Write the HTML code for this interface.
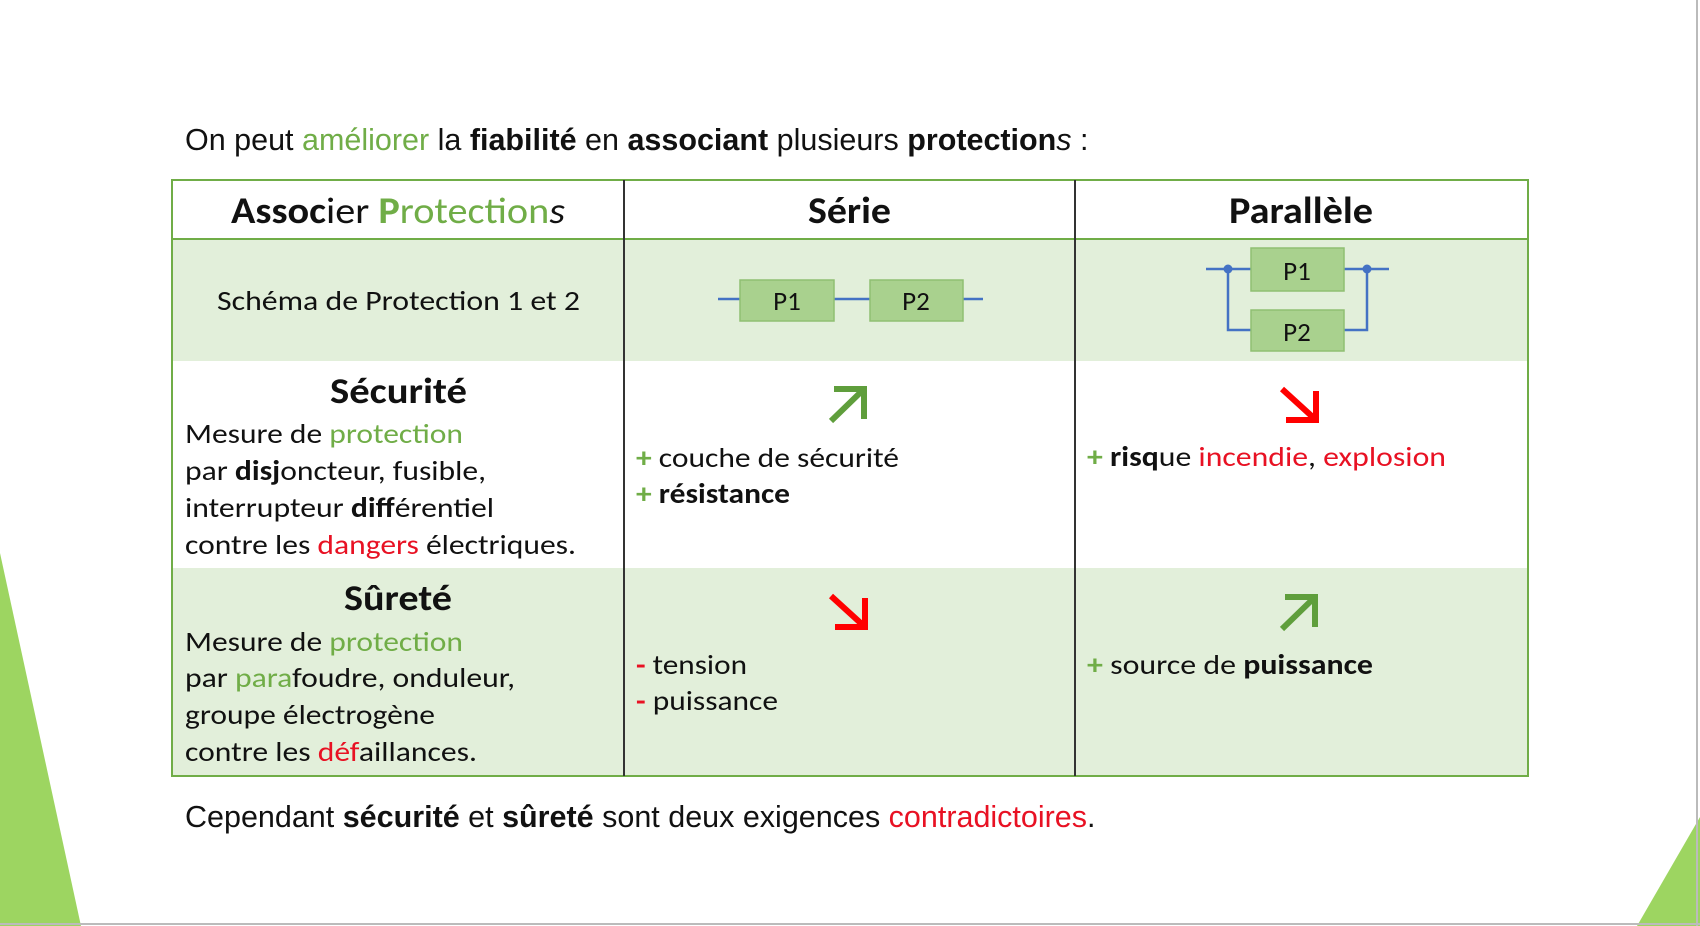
<!DOCTYPE html>
<html><head><meta charset="utf-8"><style>
html,body{margin:0;padding:0;background:#fff;}
svg{display:block}
.a{font-family:"Liberation Sans",Arial,sans-serif;}
.c{font-family:"Carlito","Liberation Sans",sans-serif;}
</style></head><body>
<svg width="1700" height="926" viewBox="0 0 1700 926" xmlns="http://www.w3.org/2000/svg">
<rect width="1700" height="926" fill="#fff"/>
<polygon points="0,553 0,926 81,926" fill="#92d050" opacity="0.9"/>
<polygon points="1700,817 1637,926 1700,926" fill="#92d050" opacity="0.9"/>
<line x1="1697" y1="0" x2="1697" y2="926" stroke="#bbb" stroke-width="2"/>
<line x1="0" y1="924" x2="1700" y2="924" stroke="#bbb" stroke-width="2"/>

<text class="a" x="185" y="150" font-size="30.5" fill="#111">On peut <tspan fill="#70ad47">améliorer</tspan> la <tspan font-weight="bold">fiabilité</tspan> en <tspan font-weight="bold">associant</tspan> plusieurs <tspan font-weight="bold">protection</tspan><tspan font-style="italic">s</tspan> :</text>

<rect x="172" y="239" width="1356" height="122" fill="#e2efda"/>
<rect x="172" y="568" width="1356" height="208" fill="#e2efda"/>
<rect x="172" y="180" width="1356" height="596" fill="none" stroke="#70ad47" stroke-width="2"/>
<line x1="172" y1="239" x2="1528" y2="239" stroke="#70ad47" stroke-width="2"/>
<line x1="624" y1="180" x2="624" y2="776" stroke="#333" stroke-width="2"/>
<line x1="1075" y1="180" x2="1075" y2="776" stroke="#333" stroke-width="2"/>

<g class="c" font-size="37" font-weight="bold" fill="#111" lengthAdjust="spacingAndGlyphs">
<text x="231" y="223" textLength="334" lengthAdjust="spacingAndGlyphs">Assoc<tspan font-weight="normal">ier </tspan><tspan fill="#70ad47">P</tspan><tspan fill="#70ad47" font-weight="normal">rotection</tspan><tspan font-weight="normal" font-style="italic">s</tspan></text>
<text x="808" y="223" textLength="83" lengthAdjust="spacingAndGlyphs">Série</text>
<text x="1229" y="223" textLength="144" lengthAdjust="spacingAndGlyphs">Parallèle</text>
</g>

<text class="c" x="217" y="310" font-size="28" fill="#111" textLength="363" lengthAdjust="spacingAndGlyphs">Schéma de Protection 1 et 2</text>

<g stroke="#4472c4" stroke-width="2.5">
<line x1="718" y1="299" x2="983" y2="299"/>
<line x1="1206" y1="269" x2="1389" y2="269"/>
<polyline points="1228,269 1228,330 1300,330" fill="none"/>
<polyline points="1367,269 1367,330 1300,330" fill="none"/>
</g>
<circle cx="1228" cy="269" r="4.5" fill="#4472c4"/>
<circle cx="1367" cy="269" r="4.5" fill="#4472c4"/>
<g fill="#a9d18e" stroke="#8fbf72" stroke-width="1.5">
<rect x="740" y="280" width="94" height="41"/>
<rect x="870" y="280" width="93" height="41"/>
<rect x="1251" y="248" width="93" height="43"/>
<rect x="1251" y="310" width="93" height="41"/>
</g>
<g class="c" font-size="27" text-anchor="middle" fill="#111">
<text x="787" y="310">P1</text><text x="916" y="310">P2</text>
<text x="1297" y="280">P1</text><text x="1297" y="341">P2</text>
</g>

<g stroke-width="6" fill="none" stroke-linecap="butt">
<g stroke="#5f9e3c"><line x1="831" y1="421" x2="864" y2="389"/><polyline points="834,389 864,389 864,419"/></g>
<g stroke="#ff0000"><line x1="1282" y1="389" x2="1316" y2="420"/><polyline points="1286,420 1316,420 1316,391"/></g>
<g stroke="#ff0000"><line x1="831" y1="596" x2="865" y2="627"/><polyline points="835,627 865,627 865,598"/></g>
<g stroke="#5f9e3c"><line x1="1282" y1="629" x2="1315" y2="597"/><polyline points="1285,597 1315,597 1315,627"/></g>
</g>

<g class="c" fill="#111">
<text x="330" y="403" font-size="36" font-weight="bold" textLength="137" lengthAdjust="spacingAndGlyphs">Sécurité</text>
<g font-size="28">
<text x="185" y="443" textLength="278" lengthAdjust="spacingAndGlyphs">Mesure de <tspan fill="#70ad47">protection</tspan></text>
<text x="185" y="480" textLength="301" lengthAdjust="spacingAndGlyphs">par <tspan font-weight="bold">disj</tspan>oncteur, fusible,</text>
<text x="185" y="517" textLength="309" lengthAdjust="spacingAndGlyphs">interrupteur <tspan font-weight="bold">diff</tspan>érentiel</text>
<text x="185" y="554" textLength="391" lengthAdjust="spacingAndGlyphs">contre les <tspan fill="#e81123">dangers</tspan> électriques.</text>
<text x="636" y="467" textLength="263" lengthAdjust="spacingAndGlyphs"><tspan fill="#70ad47" font-weight="bold">+</tspan> couche de sécurité</text>
<text x="636" y="503" textLength="154" lengthAdjust="spacingAndGlyphs"><tspan fill="#70ad47" font-weight="bold">+</tspan> <tspan font-weight="bold">résistance</tspan></text>
<text x="1087" y="466" textLength="359" lengthAdjust="spacingAndGlyphs"><tspan fill="#70ad47" font-weight="bold">+</tspan> <tspan font-weight="bold">risq</tspan>ue <tspan fill="#e81123">incendie</tspan>, <tspan fill="#e81123">explosion</tspan></text>
</g>
<text x="344" y="610" font-size="36" font-weight="bold" textLength="108" lengthAdjust="spacingAndGlyphs">Sûreté</text>
<g font-size="28">
<text x="185" y="651" textLength="278" lengthAdjust="spacingAndGlyphs">Mesure de <tspan fill="#70ad47">protection</tspan></text>
<text x="185" y="687" textLength="330" lengthAdjust="spacingAndGlyphs">par <tspan fill="#70ad47">para</tspan>foudre, onduleur,</text>
<text x="185" y="724" textLength="250" lengthAdjust="spacingAndGlyphs">groupe électrogène</text>
<text x="185" y="761" textLength="292" lengthAdjust="spacingAndGlyphs">contre les <tspan fill="#e81123">déf</tspan>aillances.</text>
<text x="636" y="674" textLength="111" lengthAdjust="spacingAndGlyphs"><tspan fill="#e81123" font-weight="bold">-</tspan> tension</text>
<text x="636" y="710" textLength="142" lengthAdjust="spacingAndGlyphs"><tspan fill="#e81123" font-weight="bold">-</tspan> puissance</text>
<text x="1087" y="674" textLength="286" lengthAdjust="spacingAndGlyphs"><tspan fill="#70ad47" font-weight="bold">+</tspan> source de <tspan font-weight="bold">puissance</tspan></text>
</g>
</g>

<text class="a" x="185" y="827" font-size="30.5" fill="#111">Cependant <tspan font-weight="bold">sécurité</tspan> et <tspan font-weight="bold">sûreté</tspan> sont deux exigences <tspan fill="#e81123">contradictoires</tspan>.</text>
</svg>
</body></html>
